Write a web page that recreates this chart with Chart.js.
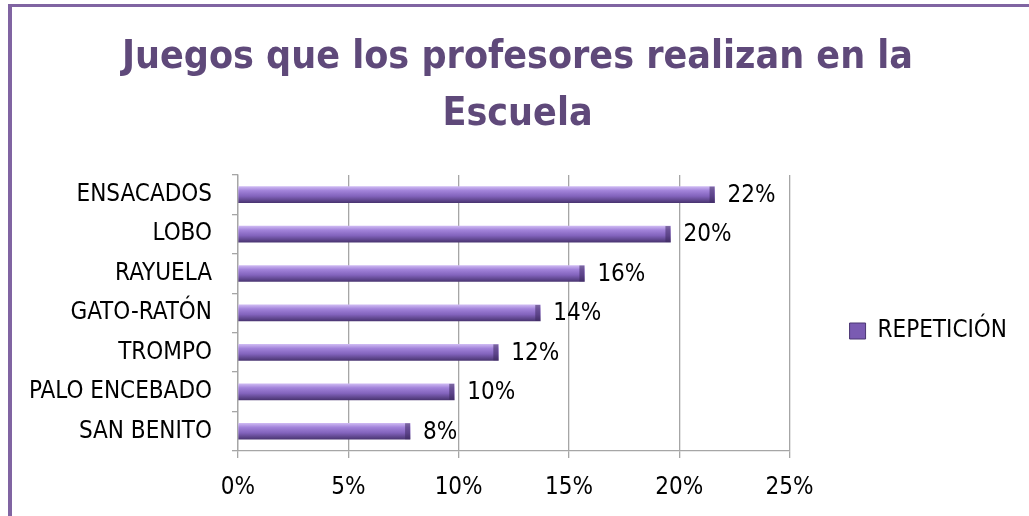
<!DOCTYPE html>
<html lang="es">
<head>
<meta charset="utf-8">
<title>Juegos que los profesores realizan en la Escuela</title>
<script src="https://cdn.jsdelivr.net/npm/chart.js@4.4.1/dist/chart.umd.min.js"></script>
<style>
  html, body { margin: 0; padding: 0; background: #fff; overflow: hidden; }
  #frame { position: absolute; left: 8px; top: 4px; width: 1100px; height: 600px; border-top: 3px solid #8064A2; border-left: 4px solid #8064A2; }
  #wrap { position: absolute; left: 0; top: 0; width: 1029px; height: 516px; }
</style>
</head>
<body>
<div id="frame"></div>
<div id="wrap"><canvas id="myChart"></canvas></div>
<script>
'use strict';
const titleLines = ['Juegos que los profesores realizan en la', 'Escuela'];
const games = ['ENSACADOS', 'LOBO', 'RAYUELA', 'GATO-RATÓN', 'TROMPO', 'PALO ENCEBADO', 'SAN BENITO'];
const repetition = [21.6, 19.6, 15.7, 13.7, 11.8, 9.8, 7.8]; // percent
const seriesName = 'REPETICIÓN';
const xTicks = [0, 5, 10, 15, 20, 25];
/*----------------------------------------------*/
const fontFamily = "'Liberation Sans Narrow', 'Arial Narrow', 'DejaVu Sans Condensed', sans-serif";

// gradient for each bar so it looks like the rounded 3d bar
function barFill(context) {
  const chart = context.chart;
  if (!chart.chartArea || context.dataIndex === undefined) {
    return '#8064A2';
  }
  const cy = chart.scales.y.getPixelForValue(context.dataIndex);
  const g = chart.ctx.createLinearGradient(0, cy - 8, 0, cy + 8);
  g.addColorStop(0, '#CDB8F2');
  g.addColorStop(0.25, '#A283DA');
  g.addColorStop(0.6, '#8263BC');
  g.addColorStop(1, '#4B3673');
  return g;
}

// draws the % next to the end of every bar
const valueLabels = {
  id: 'valueLabels',
  afterDatasetsDraw(chart) {
    const ctx = chart.ctx;
    const meta = chart.getDatasetMeta(0);
    ctx.save();
    ctx.font = '24px ' + fontFamily;
    ctx.textAlign = 'left';
    ctx.textBaseline = 'middle';
    meta.data.forEach((bar, i) => {
      // darker end face of the bar
      ctx.fillStyle = 'rgba(60, 40, 95, 0.55)';
      ctx.beginPath();
      ctx.moveTo(bar.x - 5, bar.y - 8);
      ctx.lineTo(bar.x, bar.y - 8);
      ctx.lineTo(bar.x, bar.y + 8);
      ctx.lineTo(bar.x - 5, bar.y + 8);
      ctx.closePath();
      ctx.fill();
      ctx.fillStyle = '#000';
      ctx.fillText(Math.round(repetition[i]) + '%', bar.x + 13, bar.y + 1);
    });
    ctx.restore();
  }
};

/**************************************************************** */
/********************** chart ********************* */
/**************************************************************** */
let ctx = document.getElementById('myChart').getContext('2d');
let chart = new Chart(ctx, {
  type: 'bar',
  data: {
    labels: games,
    datasets: [{
      label: seriesName,
      data: repetition,
      backgroundColor: barFill,
      borderWidth: 0,
      barThickness: 16
    }]
  },
  options: {
    indexAxis: 'y',
    responsive: true,
    maintainAspectRatio: false,
    animation: false,
    layout: { padding: { top: 10, left: 18, right: 12, bottom: 10 } },
    scales: {
      x: {
        min: xTicks[0],
        max: xTicks[xTicks.length - 1],
        afterBuildTicks: (scale) => { scale.ticks = xTicks.map(v => ({ value: v })); },
        afterFit: (scale) => { scale.height = 55; },
        ticks: {
          callback: (v) => v + '%',
          color: '#000',
          padding: 15,
          font: { family: fontFamily, size: 24 }
        },
        grid: { color: '#A6A6A6', tickLength: 7, lineWidth: 1.3 },
        border: { color: '#A6A6A6', width: 1.3 }
      },
      y: {
        afterFit: (scale) => { scale.width = 220; },
        ticks: {
          color: '#000',
          padding: 20,
          font: { family: fontFamily, size: 24 }
        },
        grid: { drawOnChartArea: false, color: '#A6A6A6', tickLength: 6, lineWidth: 1.3 },
        border: { color: '#A6A6A6', width: 1.3 }
      }
    },
    plugins: {
      title: {
        display: true,
        text: titleLines,
        color: '#5F497A',
        font: { family: fontFamily, size: 39, weight: 'bold', lineHeight: 1.46 },
        padding: { top: 19, bottom: 32 }
      },
      legend: {
        position: 'right',
        title: { display: true, text: ' ', font: { size: 10 }, padding: { top: 134, bottom: 0 } },
        labels: {
          color: '#000',
          padding: 60,
          boxWidth: 16,
          boxHeight: 16,
          font: { family: fontFamily, size: 24 },
          generateLabels: () => [{
            text: seriesName,
            fillStyle: '#7A5BB2',
            strokeStyle: '#4B3673',
            fontColor: '#000',
            lineWidth: 1,
            hidden: false,
            datasetIndex: 0
          }]
        }
      },
      tooltip: { enabled: false }
    }
  },
  plugins: [valueLabels]
});
</script>
</body>
</html>
